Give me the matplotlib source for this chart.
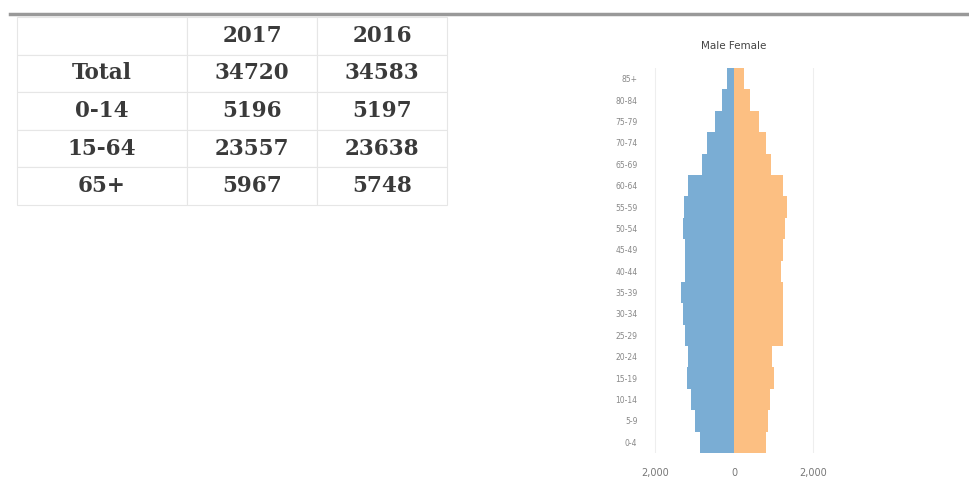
import matplotlib
matplotlib.use('Agg')
import matplotlib.pyplot as plt
from matplotlib.lines import Line2D

# table data
years = ['2017', '2016']
row_names = ['Total', '0-14', '15-64', '65+']
pop_2017 = [34720, 5196, 23557, 5967]
pop_2016 = [34583, 5197, 23638, 5748]

# pyramid data (5-year groups, bottom to top)
age_groups = ['0-4', '5-9', '10-14', '15-19', '20-24', '25-29', '30-34', '35-39',
              '40-44', '45-49', '50-54', '55-59', '60-64', '65-69', '70-74',
              '75-79', '80-84', '85+']
male = [870, 980, 1080, 1180, 1150, 1230, 1280, 1330, 1250, 1230, 1300, 1270,
        1150, 820, 690, 490, 300, 170]
female = [800, 870, 900, 1000, 970, 1230, 1230, 1230, 1200, 1250, 1300, 1330,
          1230, 930, 820, 620, 400, 250]

fig = plt.figure(figsize=(9.7, 4.87), dpi=100)

# grey rule across the top
fig.add_artist(Line2D([10 / 970, 1.0], [1 - 14 / 487, 1 - 14 / 487],
                      color='#999999', lw=2.5))

# --- table ---
tax = fig.add_axes([17 / 970, 1 - 205 / 487, 430 / 970, 188 / 487])
tax.axis('off')
cells = [[''] + years]
for name, a, b in zip(row_names, pop_2017, pop_2016):
    cells.append([name, str(a), str(b)])
tbl = tax.table(cellText=cells, cellLoc='center', bbox=[0, 0, 1, 1],
                colWidths=[170, 130, 130])
tbl.auto_set_font_size(False)
for (r, c), cell in tbl.get_celld().items():
    cell.set_edgecolor('#e6e6e6')
    cell.set_linewidth(0.8)
    t = cell.get_text()
    t.set_fontfamily('DejaVu Serif')
    t.set_fontweight('bold')
    t.set_fontsize(15.5)
    t.set_color('#3a3a3a')

# --- pyramid ---
ax = fig.add_axes([643 / 970, 34 / 487, 182 / 970, 385 / 487])
ypos = list(range(len(age_groups)))
ax.barh(ypos, [-m for m in male], height=1.0, color='#7aadd4')
ax.barh(ypos, female, height=1.0, color='#fcbf82')
ax.set_xlim(-2300, 2300)
ax.set_ylim(-0.5, len(age_groups) - 0.5)
ax.set_xticks([-2000, 0, 2000])
ax.set_xticklabels(['2,000', '0', '2,000'])
ax.set_yticks(ypos)
ax.set_yticklabels(age_groups)
ax.tick_params(axis='x', length=0, labelsize=7, labelcolor='#777777', pad=11)
ax.tick_params(axis='y', length=0, labelsize=5.5, labelcolor='#888888', pad=4)
for s in ax.spines.values():
    s.set_visible(False)
for xv in [-2000, 2000]:
    ax.axvline(xv, color='#eeeeee', lw=0.8, zorder=0)
ax.set_title('Male Female', fontsize=7.5, color='#444444', pad=14)

fig.savefig('out.png', dpi=100)
